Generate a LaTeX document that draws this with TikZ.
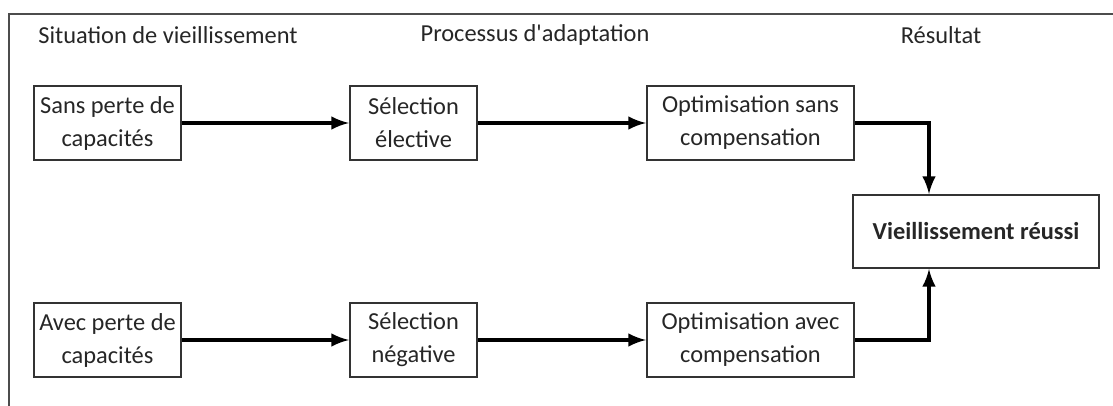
\documentclass[tikz,border=0pt]{standalone}
\usepackage{fontspec}
\setmainfont{Carlito}
\usepackage{tikz}
\usetikzlibrary{positioning,arrows}

\begin{document}
\begin{tikzpicture}[x=0.5pt,y=-0.5pt,
        txt/.style = {font=\fontsize{12.2}{16.5}\selectfont, text=black!85, inner sep=0pt},
        boxsmall/.style = {box, minimum width=73.5pt},
        boxmid/.style = {box, minimum width=63.5pt},
        boxwide/.style = {box, minimum width=103.5pt},
]
\tikzstyle{box}=[rectangle, draw=black!80, line width=1pt, minimum height=37pt, align=center, txt]
\tikzstyle{connect}=[-latex, line width=2pt]
\tikzstyle{frame}=[line width=1pt, draw=black!70]

	\useasboundingbox (0,0) rectangle (1113,406);
	\draw[frame] (1113,14) -- (9,14) -- (9,406);

	% column titles
	\node[txt, anchor=west] (h1) at (38,35) {Situation de vieillissement};
	\node[txt] (h2) at (535,35) {Processus d\textquotesingle adaptation};
	\node[txt] (h3) at (941,35) {Résultat};

	% upper row
	\node[boxsmall] (sans) at (107.5,123) {Sans perte de\\capacités};
	\node[boxmid] (elect) at (413.5,123) {Sélection\\élective};
	\node[boxwide] (optsans) at (750.5,123) {Optimisation sans\\compensation};

	% lower row
	\node[boxsmall] (avec) at (107.5,340) {Avec perte de\\capacités};
	\node[boxmid] (negat) at (413.5,340) {Sélection\\négative};
	\node[boxwide] (optavec) at (750.5,340) {Optimisation avec\\compensation};

	\node[box, minimum width=123pt, minimum height=36.5pt, font=\fontsize{12.2}{16.5}\selectfont\bfseries] (reussi) at (976,231.5) {Vieillissement réussi};

	\path
		(sans) edge [connect] (elect)
		(elect) edge [connect] (optsans)
		(avec) edge [connect] (negat)
		(negat) edge [connect] (optavec);

	\draw[connect] (optsans.east) -| ([xshift=-23.5pt]reussi.north);
	\draw[connect] (optavec.east) -| ([xshift=-23.5pt]reussi.south);

\end{tikzpicture}
\end{document}
